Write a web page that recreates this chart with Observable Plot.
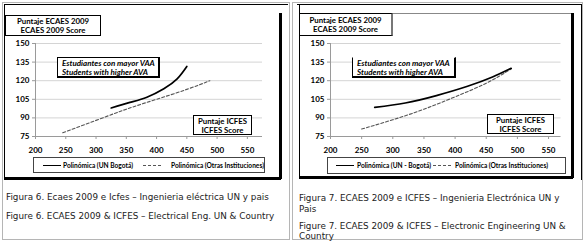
<!DOCTYPE html>
<html><head><meta charset="utf-8">
<script src="https://cdn.jsdelivr.net/npm/d3@7"></script>
<script src="https://cdn.jsdelivr.net/npm/@observablehq/plot@0.6"></script>
<style>
html,body{margin:0;padding:0;background:#fff;width:584px;height:242px;overflow:hidden;}
#root{position:relative;width:584px;height:242px;}
.abs{position:absolute;box-sizing:border-box;}
.blk{background:#000;}
.lbl{font-family:Lato,sans-serif;font-weight:bold;font-size:7.8px;color:#000;text-align:center;line-height:9px;border:1px solid #000;background:#fff;padding-top:0.5px;white-space:nowrap;}
.vaa{font-family:Lato,sans-serif;font-weight:bold;font-style:italic;font-size:8px;color:#000;line-height:9px;border:1px solid #000;border-right-width:2px;border-bottom-width:2px;background:#fff;padding:0.5px 0 0 4px;white-space:nowrap;}
.leg{font-family:Lato,sans-serif;font-weight:bold;font-size:6.6px;color:#000;border:1px solid #444;background:#fff;white-space:nowrap;}
.leg span{position:absolute;top:3px;}
.leg i{position:absolute;top:7px;height:0;}
.cap{font-family:"DejaVu Sans",sans-serif;font-size:8.8px;color:#222;white-space:nowrap;}
.chart{position:absolute;top:0;}
</style>
</head><body><div id="root"></div>
<script>
const xTicks = [200, 250, 300, 350, 400, 450, 500, 550];
const yTicks = [75, 90, 105, 120, 135, 150];

// Figure 6 (Electrical Eng.)
const fig6UnX = [325, 356, 384, 412, 434, 450];
const fig6UnY = [98, 102.5, 106.7, 113.5, 121.5, 131.5];
const fig6OtherX = [245, 300, 350, 400, 450, 488];
const fig6OtherY = [78, 88, 97, 105, 113, 120];

// Figure 7 (Electronic Eng.)
const fig7UnX = [271, 320, 370, 420, 460, 490];
const fig7UnY = [98.5, 102, 108, 115.5, 123, 130];
const fig7OtherX = [250, 300, 350, 400, 450, 490];
const fig7OtherY = [81, 88.5, 97, 107, 118, 129.5];

const legendUn6 = "Polinómica (UN  Bogotá)";
const legendUn7 = "Polinómica (UN - Bogotá)";
const legendOther = "Polinómica (Otras Instituciones)";

function chart(unX, unY, otX, otY, ml, mr, xMax) {
  const un = unX.map((x, i) => ({x, y: unY[i]}));
  const ot = otX.map((x, i) => ({x, y: otY[i]}));
  return Plot.plot({
    width: 292, height: 180,
    marginLeft: ml, marginRight: mr, marginTop: 43, marginBottom: 44,
    x: {domain: [200, xMax]},
    y: {domain: [75, 150]},
    style: {fontFamily: "Lato, sans-serif", fontSize: "8px", background: "transparent", color: "#000"},
    marks: [
      Plot.gridY(yTicks.slice(1), {stroke: "#d4d4d4", strokeOpacity: 1}),
      Plot.ruleX([200], {stroke: "#9a9a9a"}),
      Plot.ruleY([75], {stroke: "#9a9a9a"}),
      Plot.axisY(yTicks, {tickSize: 3, tickPadding: 3, stroke: "#9a9a9a", fill: "#000", fontWeight: "bold", label: null}),
      Plot.axisX(xTicks, {tickSize: 3, tickPadding: 8, stroke: "#9a9a9a", fill: "#000", fontWeight: "bold", label: null}),
      Plot.line(ot, {x: "x", y: "y", curve: "natural", stroke: "#555", strokeWidth: 1.1, strokeDasharray: "3,2"}),
      Plot.line(un, {x: "x", y: "y", curve: "natural", stroke: "#000", strokeWidth: 1.7})
    ]
  });
}

const root = document.getElementById("root");
function add(cls, l, t, w, h, html, extra) {
  const d = document.createElement("div");
  d.className = "abs " + cls;
  d.style.left = l + "px"; d.style.top = t + "px";
  d.style.width = w + "px";
  if (h != null) d.style.height = h + "px";
  if (extra) Object.assign(d.style, extra);
  if (html != null) d.innerHTML = html;
  root.appendChild(d);
  return d;
}

// panel frames
add("", 2, 2, 288, 238, null, {border: "1px solid #b5b5b5"});
add("", 292, 2, 291, 238, null, {border: "1px solid #b5b5b5"});

// charts
const c6 = chart(fig6UnX, fig6UnY, fig6OtherX, fig6OtherY, 35, 30, 575);
c6.classList.add("chart"); c6.style.left = "0px"; root.appendChild(c6);
const c7 = chart(fig7UnX, fig7UnY, fig7OtherX, fig7OtherY, 38, 23.5, 570);
c7.classList.add("chart"); c7.style.left = "292px"; root.appendChild(c7);

// left chart borders
add("blk", 4, 4, 284, 1);
add("blk", 4, 4, 1, 175);
add("blk", 279, 13, 2.5, 166);
add("blk", 4, 177, 277, 2.5);
// right chart borders
add("blk", 297, 4, 285, 1);
add("blk", 581, 4, 1, 176);
add("blk", 299, 4, 1, 174);
add("", 299, 13, 273, 1, null, {background: "#888"});
add("blk", 571, 13, 2.5, 165);
add("blk", 299, 176, 274, 2.5);

// labels left
add("lbl", 5, 15, 96, 21, "Puntaje ECAES 2009<br>ECAES 2009 Score");
add("vaa", 57, 57, 103, 21, "Estudiantes con mayor VAA<br>Students with higher AVA");
add("lbl", 193, 115, 59, 20, "Puntaje ICFES<br>ICFES Score");
// labels right
add("lbl", 299, 13, 94, 23, "Puntaje ECAES 2009<br>ECAES 2009 Score", {paddingTop: "2px", borderRightColor: "#777", borderRightWidth: "2px"});
add("vaa", 352, 57, 104, 21, "Estudiantes con mayor VAA<br>Students with higher AVA", {borderTopColor: "#fff"});
add("lbl", 487, 114, 67, 20, "Puntaje ICFES<br>ICFES Score", {paddingTop: "0.5px"});

// legends
function legend(l, t, w, h, unText, s1, t1, s2, t2) {
  const d = add("leg", l, t, w, h, "");
  d.innerHTML =
    `<i style="left:${s1}px;width:18px;border-top:1.3px solid #000"></i>` +
    `<span style="left:${t1}px">${unText}</span>` +
    `<i style="left:${s2}px;width:18px;border-top:1px dashed #555"></i>` +
    `<span style="left:${t2}px">${legendOther}</span>`;
}
legend(33, 157, 232, 16, legendUn6, 9, 29, 109, 137);
legend(327, 157, 239, 17, legendUn7, 8, 29, 105, 127);

// captions
add("cap", 6, 191, 282, null, "Figura 6. Ecaes 2009 e Icfes – Ingenieria eléctrica UN y pais", {lineHeight: "12px"});
add("cap", 6, 210, 282, null, "Figure 6. ECAES 2009 &amp; ICFES – Electrical Eng. UN &amp; Country", {lineHeight: "12px"});
add("cap", 299, 193, 282, null, "Figura 7. ECAES 2009 e ICFES – Ingenieria Electrónica UN y<br>Pais", {lineHeight: "11px"});
add("cap", 299, 221, 282, null, "Figure 7. ECAES 2009 &amp; ICFES – Electronic Engineering UN &amp;<br>Country", {lineHeight: "10.4px"});
</script></body></html>
